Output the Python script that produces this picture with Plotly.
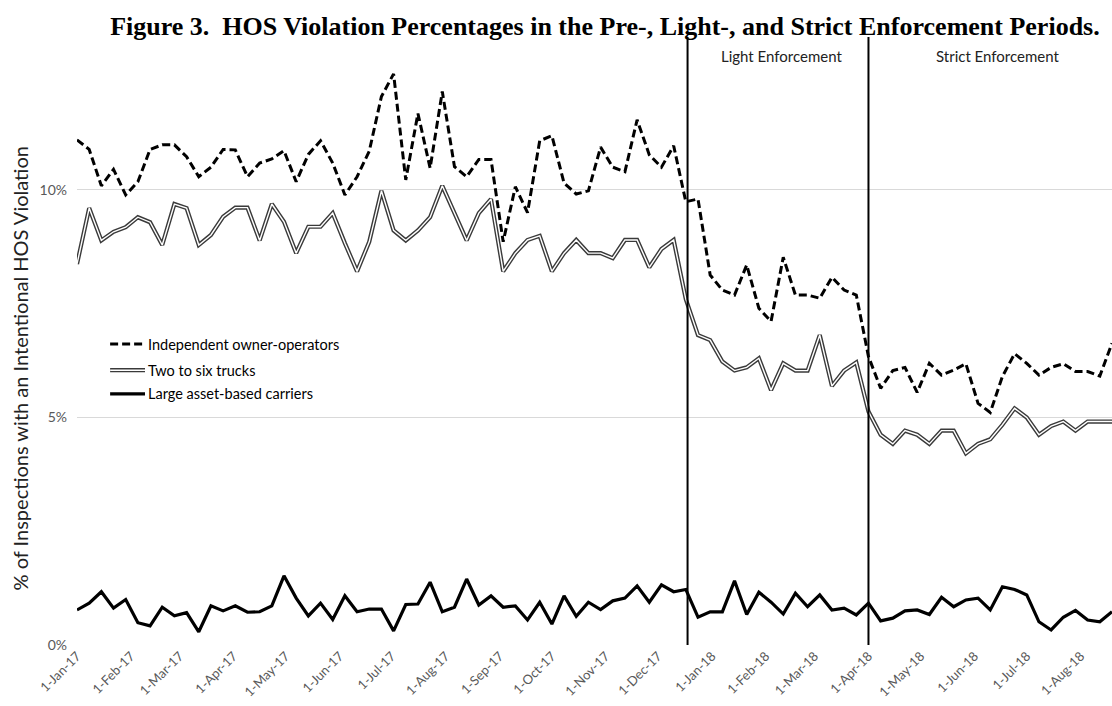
import pandas as pd
import plotly.graph_objects as go

# ---- data (weekly, % of inspections) ----
start_date = "2017-01-01"
n_weeks = 86
weeks = pd.date_range(start_date, periods=n_weeks, freq="7D")

independent = [11.10, 10.89, 10.09, 10.45, 9.89, 10.18, 10.89, 10.99, 10.99, 10.73,
               10.29, 10.50, 10.89, 10.88, 10.29, 10.59, 10.68, 10.86, 10.18, 10.78,
               11.08, 10.59, 9.89, 10.29, 10.85, 12.05, 12.55, 10.22, 11.68, 10.48,
               12.16, 10.51, 10.29, 10.67, 10.67, 8.86, 10.07, 9.50, 11.08, 11.19,
               10.15, 9.91, 9.98, 10.94, 10.50, 10.40, 11.54, 10.77, 10.50, 10.97,
               9.74, 9.80, 8.13, 7.80, 7.69, 8.35, 7.40, 7.11, 8.52, 7.69,
               7.69, 7.62, 8.08, 7.80, 7.69, 6.34, 5.64, 6.03, 6.10, 5.55,
               6.19, 5.93, 6.04, 6.18, 5.31, 5.11, 5.90, 6.40, 6.19, 5.93,
               6.10, 6.18, 6.01, 6.01, 5.91, 6.63]

two_to_six = [8.37, 9.60, 8.89, 9.08, 9.18, 9.40, 9.29, 8.79, 9.69, 9.60,
              8.79, 9.01, 9.41, 9.61, 9.61, 8.89, 9.69, 9.30, 8.61, 9.19,
              9.19, 9.49, 8.83, 8.21, 8.86, 9.98, 9.11, 8.89, 9.11, 9.40,
              10.09, 9.49, 8.89, 9.49, 9.80, 8.21, 8.61, 8.90, 8.99, 8.21,
              8.61, 8.90, 8.61, 8.61, 8.50, 8.90, 8.90, 8.30, 8.70, 8.90,
              7.60, 6.81, 6.70, 6.23, 6.03, 6.10, 6.30, 5.60, 6.19, 6.03,
              6.03, 6.81, 5.69, 6.03, 6.21, 5.13, 4.62, 4.42, 4.71, 4.62,
              4.42, 4.71, 4.71, 4.21, 4.42, 4.52, 4.84, 5.20, 5.00, 4.62,
              4.81, 4.91, 4.71, 4.91, 4.91, 4.91]

large = [0.77, 0.92, 1.17, 0.81, 1.00, 0.49, 0.42, 0.83, 0.64, 0.71,
         0.29, 0.86, 0.75, 0.86, 0.72, 0.73, 0.86, 1.52, 1.03, 0.64,
         0.92, 0.56, 1.08, 0.73, 0.79, 0.79, 0.31, 0.89, 0.90, 1.38,
         0.73, 0.83, 1.45, 0.88, 1.08, 0.83, 0.86, 0.55, 0.94, 0.46,
         1.08, 0.63, 0.94, 0.78, 0.97, 1.03, 1.30, 0.94, 1.32, 1.17,
         1.22, 0.61, 0.73, 0.73, 1.41, 0.67, 1.16, 0.94, 0.68, 1.14,
         0.84, 1.10, 0.77, 0.81, 0.66, 0.92, 0.53, 0.59, 0.75, 0.77,
         0.67, 1.05, 0.84, 0.99, 1.03, 0.77, 1.28, 1.22, 1.10, 0.51,
         0.33, 0.61, 0.76, 0.55, 0.51, 0.73]

series_names = ["Independent owner-operators", "Two to six trucks", "Large asset-based carriers"]
period_starts = ["2017-12-18", "2018-04-01"]
period_labels = ["Light Enforcement", "Strict Enforcement"]
period_label_x = ["2018-02-10", "2018-06-14"]
y_ticks = [0, 5, 10]
y_tick_text = ["0%", "5%", "10%"]
title_text = "Figure 3.  HOS Violation Percentages in the Pre-, Light-, and Strict Enforcement Periods."
y_title = "% of Inspections with an Intentional HOS Violation"

# ---- figure ----
BODY = "Lato, 'Open Sans', sans-serif"
fig = go.Figure()

fig.add_trace(go.Scatter(x=weeks, y=independent, mode="lines", name=series_names[0],
                         line=dict(color="black", width=3, dash="8px,4px"), showlegend=False))
fig.add_trace(go.Scatter(x=weeks, y=two_to_six, mode="lines", name=series_names[1],
                         line=dict(color="#3a3a3a", width=4.2), showlegend=False))
fig.add_trace(go.Scatter(x=weeks, y=two_to_six, mode="lines", name=series_names[1],
                         line=dict(color="white", width=1.4), showlegend=False, hoverinfo="skip"))
fig.add_trace(go.Scatter(x=weeks, y=large, mode="lines", name=series_names[2],
                         line=dict(color="black", width=3.2), showlegend=False))

shapes = []
for d in period_starts:
    shapes.append(dict(type="line", xref="x", yref="paper", x0=d, x1=d, y0=0, y1=1,
                       line=dict(color="black", width=2)))

# custom legend (paper coords)
leg_x0, leg_x1 = 0.032, 0.0657
leg_ys = [0.495, 0.452, 0.413]
shapes.append(dict(type="line", xref="paper", yref="paper", x0=leg_x0, x1=leg_x1,
                   y0=leg_ys[0], y1=leg_ys[0], line=dict(color="black", width=3, dash="8px,4px")))
shapes.append(dict(type="line", xref="paper", yref="paper", x0=leg_x0, x1=leg_x1,
                   y0=leg_ys[1], y1=leg_ys[1], line=dict(color="#3a3a3a", width=4.2)))
shapes.append(dict(type="line", xref="paper", yref="paper", x0=leg_x0, x1=leg_x1,
                   y0=leg_ys[1], y1=leg_ys[1], line=dict(color="white", width=1.4)))
shapes.append(dict(type="line", xref="paper", yref="paper", x0=leg_x0, x1=leg_x1,
                   y0=leg_ys[2], y1=leg_ys[2], line=dict(color="black", width=3.2)))

annotations = []
for name, ly in zip(series_names, leg_ys):
    annotations.append(dict(text=name, xref="paper", yref="paper", x=leg_x1 + 0.001, y=ly,
                            xanchor="left", yanchor="middle", showarrow=False,
                            font=dict(family=BODY, size=14.5, color="black")))
for lab, lx in zip(period_labels, period_label_x):
    annotations.append(dict(text=lab, xref="x", yref="paper", x=lx, y=0.969,
                            xanchor="center", yanchor="middle", showarrow=False,
                            font=dict(family=BODY, size=15, color="#222")))
annotations.append(dict(text=y_title, xref="paper", yref="paper", x=-0.055, y=0.455,
                        textangle=-90, xanchor="center", yanchor="middle", showarrow=False,
                        font=dict(family=BODY, size=20, color="#222")))

fig.update_layout(
    width=1112, height=706,
    margin=dict(l=77, r=0, t=37, b=61, autoexpand=False),
    paper_bgcolor="white", plot_bgcolor="white",
    title=dict(text="<b>" + title_text + "</b>", xref="container", yref="container",
               x=0.544, y=0.963, xanchor="center", yanchor="middle",
               font=dict(family="'Liberation Serif', 'Times New Roman', serif", size=26, color="black")),
    shapes=shapes, annotations=annotations,
    xaxis=dict(type="date", range=[weeks[0], weeks[-1]], dtick="M1", tick0=start_date,
               tickformat="%-d-%b-%y", tickangle=-45, showgrid=False, zeroline=False,
               showline=False, ticks="", automargin=False,
               tickfont=dict(family=BODY, size=13, color="#595959")),
    yaxis=dict(range=[0, 13.36], tickvals=y_ticks, ticktext=y_tick_text, showgrid=True,
               gridcolor="#d9d9d9", gridwidth=1.3, zeroline=False, showline=False, ticks="",
               automargin=False, ticklabelstandoff=9,
               tickfont=dict(family=BODY, size=14, color="#595959")),
    showlegend=False,
)

fig.write_html("out.html", config={"displayModeBar": False},
               post_script="document.body.style.margin='0';document.body.style.overflow='hidden';")
